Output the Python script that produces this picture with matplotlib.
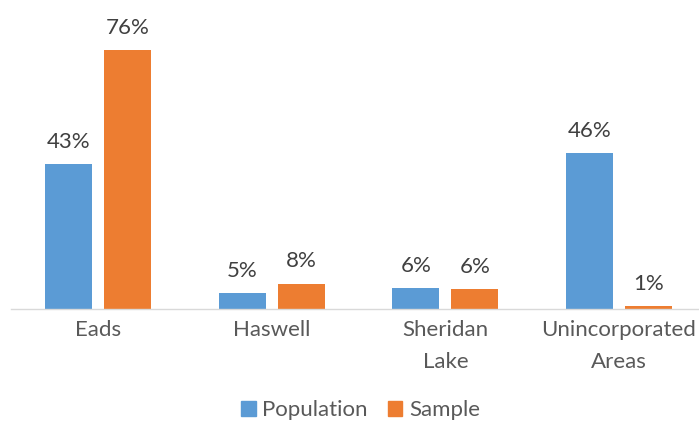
import matplotlib.pyplot as plt
import numpy as np
from matplotlib.patches import Patch

plt.rcParams["font.family"] = ["Lato", "DejaVu Sans"]

categories = ["Eads", "Haswell", "Sheridan\nLake", "Unincorporated\nAreas"]
population = [42.8, 4.7, 6.2, 46.0]
sample = [76.4, 7.6, 5.9, 0.9]

blue = "#5B9BD5"
orange = "#ED7D31"
label_color = "#404040"
axis_text = "#595959"

fig = plt.figure(figsize=(6.99, 4.23), dpi=100)
W, H = 699, 423
px_per_unit = 3.39
base_y = 309.3
left_px, right_px = 11.2, 705.8
top_units = 80
ax = fig.add_axes([left_px / W, (H - base_y) / H, (right_px - left_px) / W,
                   top_units * px_per_unit / H])

x = np.arange(len(categories))
width = 0.27
offset = 0.17
b1 = ax.bar(x - offset, population, width, color=blue, label="Population")
b2 = ax.bar(x + offset, sample, width, color=orange, label="Sample")

for bars, vals in ((b1, population), (b2, sample)):
    for rect, v in zip(bars, vals):
        ax.annotate("{:.0f}%".format(v),
                    (rect.get_x() + rect.get_width() / 2, rect.get_height()),
                    xytext=(0, 9.0), textcoords="offset points",
                    ha="center", va="bottom", fontsize=16, color=label_color)

ax.set_xlim(-0.5, len(categories) - 0.5)
ax.set_ylim(0, top_units)
ax.set_xticks(x)
ax.set_xticklabels(categories, fontsize=16, color=axis_text, linespacing=1.75)
ax.tick_params(axis="x", length=0, pad=8)
ax.set_yticks([])
for s in ("left", "right", "top"):
    ax.spines[s].set_visible(False)
ax.spines["bottom"].set_color("#D9D9D9")
ax.spines["bottom"].set_linewidth(1.0)

handles = [Patch(color=blue, label="Population"), Patch(color=orange, label="Sample")]
leg = fig.legend(handles=handles, loc="center", bbox_to_anchor=(0.516, 1 - 410 / H),
                 ncol=2, frameon=False, fontsize=16, handlelength=0.65,
                 handleheight=0.65, handletextpad=0.3, columnspacing=0.9)
for t in leg.get_texts():
    t.set_color(axis_text)

fig.savefig("out.png", dpi=100)
